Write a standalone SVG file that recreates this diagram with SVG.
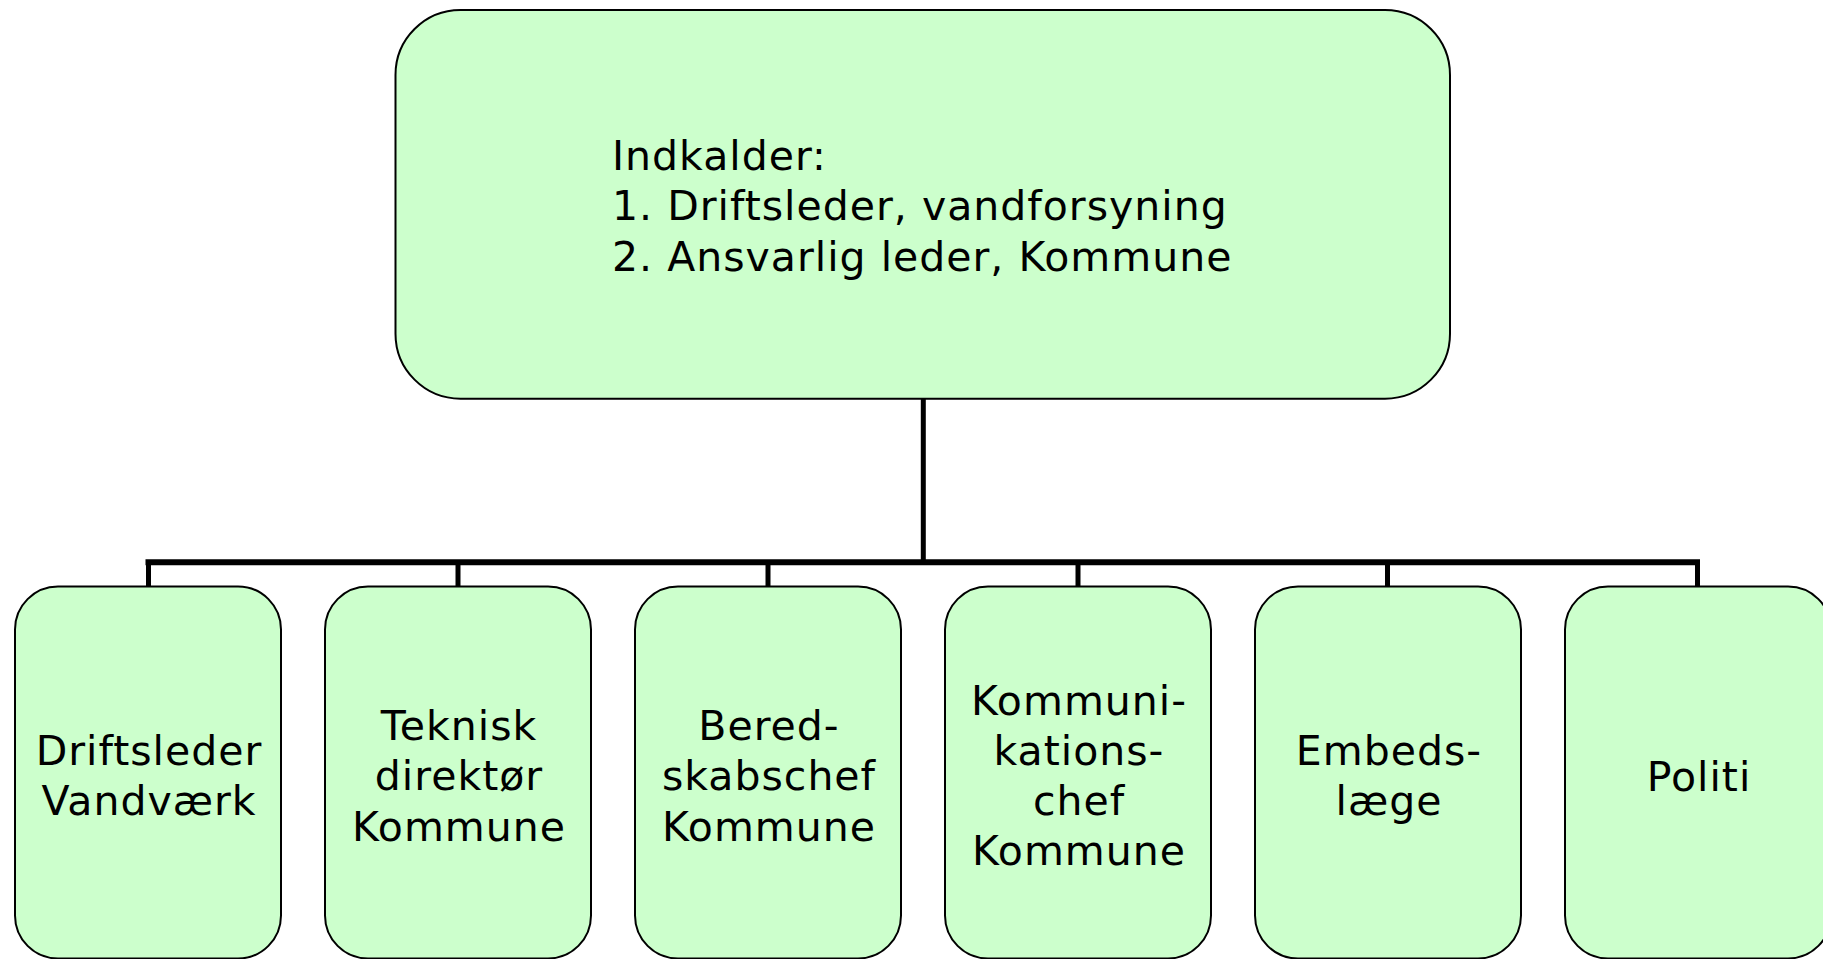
<svg xmlns="http://www.w3.org/2000/svg" width="1823" height="959" viewBox="0 0 1823 959">
<style>
.box{fill:#CCFFCC;stroke:#000;stroke-width:2}
.lbl{font-family:"DejaVu Sans",Verdana,sans-serif;font-size:41px;letter-spacing:1px;fill:#000}
.c{text-anchor:middle}
.conn{stroke:#000;fill:none;stroke-linecap:butt}
</style>
<rect width="1823" height="959" fill="#fff"/>
<g id="connectors">
<line class="conn" x1="923.3" y1="399" x2="923.3" y2="562.3" stroke-width="5"/>
<line class="conn" x1="145.5" y1="562.3" x2="1700" y2="562.3" stroke-width="6"/>
<line class="conn" x1="148.5" y1="562" x2="148.5" y2="587" stroke-width="5"/>
<line class="conn" x1="458" y1="562" x2="458" y2="587" stroke-width="5"/>
<line class="conn" x1="768" y1="562" x2="768" y2="587" stroke-width="5"/>
<line class="conn" x1="1078" y1="562" x2="1078" y2="587" stroke-width="5"/>
<line class="conn" x1="1387.5" y1="562" x2="1387.5" y2="587" stroke-width="5"/>
<line class="conn" x1="1697.5" y1="562" x2="1697.5" y2="587" stroke-width="5"/>
</g>
<g id="top">
<rect class="box" x="395.5" y="10" width="1054.5" height="388.7" rx="65" ry="65"/>
<text class="lbl" x="612" y="170">Indkalder:</text>
<text class="lbl" x="612" y="220.3">1. Driftsleder, vandforsyning</text>
<text class="lbl" x="612" y="270.5">2. Ansvarlig leder, Kommune</text>
</g>
<g id="n1">
<rect class="box" x="15" y="586.5" width="266" height="372" rx="43" ry="43"/>
<text class="lbl c" x="149" y="765.2">Driftsleder</text>
<text class="lbl c" x="149" y="815.4">Vandværk</text>
</g>
<g id="n2">
<rect class="box" x="325" y="586.5" width="266" height="372" rx="43" ry="43"/>
<text class="lbl c" x="459" y="740.1">Teknisk</text>
<text class="lbl c" x="459" y="790.3">direktør</text>
<text class="lbl c" x="459" y="840.5">Kommune</text>
</g>
<g id="n3">
<rect class="box" x="635" y="586.5" width="266" height="372" rx="43" ry="43"/>
<text class="lbl c" x="769" y="740.1">Bered-</text>
<text class="lbl c" x="769" y="790.3">skabschef</text>
<text class="lbl c" x="769" y="840.5">Kommune</text>
</g>
<g id="n4">
<rect class="box" x="945" y="586.5" width="266" height="372" rx="43" ry="43"/>
<text class="lbl c" x="1079" y="714.8">Kommuni-</text>
<text class="lbl c" x="1079" y="765">kations-</text>
<text class="lbl c" x="1079" y="815.2">chef</text>
<text class="lbl c" x="1079" y="865.4">Kommune</text>
</g>
<g id="n5">
<rect class="box" x="1255" y="586.5" width="266" height="372" rx="43" ry="43"/>
<text class="lbl c" x="1389" y="765.2">Embeds-</text>
<text class="lbl c" x="1389" y="815.4">læge</text>
</g>
<g id="n6">
<rect class="box" x="1565" y="586.5" width="266" height="372" rx="43" ry="43"/>
<text class="lbl c" x="1699" y="790.5">Politi</text>
</g>
</svg>
